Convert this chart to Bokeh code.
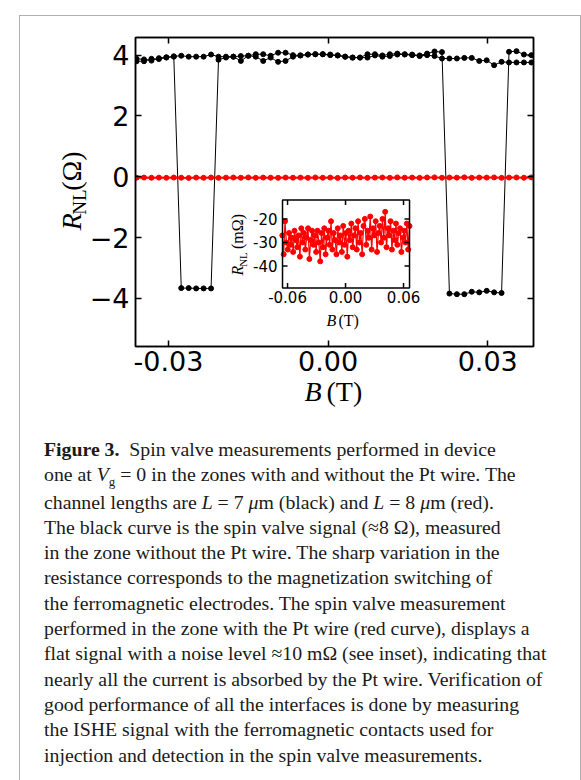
from math import pi
from bokeh.plotting import figure
from bokeh.models import Range1d, LinearAxis, FixedTicker, Div
from bokeh.layouts import column, row
from bokeh.embed import file_html
from bokeh.resources import INLINE
from bokeh.core.properties import value

# ---------------- data ----------------
B_black = [-0.036, -0.0346, -0.0332, -0.0318, -0.0304, -0.029, -0.0276, -0.0262, -0.0248, -0.0234,
           -0.022, -0.0206, -0.0192, -0.0178, -0.0164, -0.015, -0.0136, -0.0122, -0.0108, -0.0094,
           -0.008, -0.0066, -0.0052, -0.0038, -0.0024, -0.001, 0.0004, 0.0018, 0.0032, 0.0046,
           0.006, 0.0074, 0.0088, 0.0102, 0.0116, 0.013, 0.0144, 0.0158, 0.0172, 0.0186,
           0.02, 0.0214, 0.0228, 0.0242, 0.0256, 0.027, 0.0284, 0.0298, 0.0312, 0.0326,
           0.034, 0.0354, 0.0368, 0.0382]
R_up = [3.88, 3.86, 3.82, 3.90, 3.93, 3.96, 3.98, 3.95, 3.95, 3.95, 4.02,
        3.95, 3.95, 3.95, 3.97, 3.98, 4.03, 4.03, 3.98, 4.08, 4.08,
        4.00, 3.99, 4.02, 4.03, 4.03, 4.02, 3.99, 3.95, 3.92, 3.92,
        4.03, 4.03, 3.99, 4.03, 4.05, 4.03, 4.02, 3.99, 4.05, 4.12,
        4.10, -3.84, -3.86, -3.86, -3.78, -3.80, -3.75, -3.80, -3.82,
        4.11, 4.13, 4.02, 4.00]
R_down = [3.80, 3.80, 3.88, 3.87, 3.92, 3.95, -3.66, -3.66, -3.67, -3.67, -3.67,
          3.85, 3.92, 3.95, 3.81, 3.98, 3.95, 3.81, 3.92, 3.78, 3.81,
          3.95, 3.99, 4.02, 4.03, 4.03, 4.00, 3.99, 3.95, 3.92, 3.92,
          3.92, 3.99, 3.95, 3.97, 4.02, 4.02, 4.00, 3.97, 4.00, 3.97,
          3.89, 3.89, 3.89, 3.91, 3.91, 3.81, 3.83, 3.67, 3.78, 3.76, 3.76, 3.76, 3.76]

B_red = [-0.0654, -0.064, -0.0626, -0.0612, -0.0598, -0.0584, -0.057, -0.0556, -0.0542, -0.0528,
         -0.0514, -0.05, -0.0486, -0.0472, -0.0458, -0.0444, -0.043, -0.0416, -0.0402, -0.0388,
         -0.0374, -0.036, -0.0346, -0.0332, -0.0318, -0.0304, -0.029, -0.0276, -0.0262, -0.0248,
         -0.0234, -0.022, -0.0206, -0.0192, -0.0178, -0.0164, -0.015, -0.0136, -0.0122, -0.0108,
         -0.0094, -0.008, -0.0066, -0.0052, -0.0038, -0.0024, -0.001, 0.0004, 0.0018, 0.0032,
         0.0046, 0.006, 0.0074, 0.0088, 0.0102, 0.0116, 0.013, 0.0144, 0.0158, 0.0172,
         0.0186, 0.02, 0.0214, 0.0228, 0.0242, 0.0256, 0.027, 0.0284, 0.0298, 0.0312,
         0.0326, 0.034, 0.0354, 0.0368, 0.0382, 0.0396, 0.041, 0.0424, 0.0438, 0.0452,
         0.0466, 0.048, 0.0494, 0.0508, 0.0522, 0.0536, 0.055, 0.0564, 0.0578, 0.0592,
         0.0606, 0.062, 0.0634, 0.0648, 0.0662]
R_red_mohm = [-27, -35, -21, -30, -33, -26, -31, -28, -34, -25,
              -29, -32, -27, -36, -24, -30, -26, -33, -28, -24,
              -37, -29, -25, -31, -27, -34, -25, -30, -38, -26,
              -32, -24, -35, -28, -25, -31, -21, -33, -26, -29,
              -35, -24, -30, -27, -34, -23, -31, -26, -36, -25,
              -29, -22, -32, -27, -24, -33, -21, -30, -26, -35,
              -23, -20, -31, -25, -28, -19, -33, -24, -27, -21,
              -34, -26, -23, -30, -20, -28, -17, -32, -24, -27,
              -21, -33, -25, -29, -22, -31, -26, -24, -34, -28,
              -25, -30, -22, -33, -23]
R_red_ohm = [v / 1000.0 for v in R_red_mohm]

x_lim = [-0.0362, 0.0386]
y_lim = [-5.58, 4.58]
x_ticks = [-0.03, 0.0, 0.03]
x_tick_labels = ["-0.03", "0.00", "0.03"]
y_ticks = [-4, -2, 0, 2, 4]
y_tick_labels = ["\u22124", "\u22122", "0", "2", "4"]

ix_lim = [-0.0652, 0.0662]
iy_lim = [-49.3, -12.0]
ix_ticks = [-0.06, 0.0, 0.06]
ix_tick_labels = ["-0.06", "0.00", "0.06"]
iy_ticks = [-40, -30, -20]
iy_tick_labels = ["-40", "-30", "-20"]
# where the inset box sits, in the main plot's data coordinates
inset_x_target = [-0.00857, 0.01530]
inset_y_target = [-3.657, -0.763]

SANS = "DejaVu Sans"
SERIF = "Liberation Serif"

# ---------------- main plot ----------------
p = figure(width=496, height=384, x_range=Range1d(*x_lim), y_range=Range1d(*y_lim),
           output_backend="svg", toolbar_location=None,
           min_border_left=50, min_border_right=48, min_border_top=37, min_border_bottom=38,
           margin=(0, 0, 0, -7))
p.grid.visible = False
p.outline_line_color = "black"
p.outline_line_width = 1.5
p.background_fill_color = "white"
p.border_fill_alpha = 0


def style_axis(ax, ticks, labels, fs, show_labels=True, standoff=4, tick_len=6):
    ax.ticker = FixedTicker(ticks=ticks)
    ax.major_label_overrides = {t: l for t, l in zip(ticks, labels)}
    ax.major_tick_in = tick_len
    ax.major_tick_out = 0
    ax.major_tick_line_width = 1.5
    ax.minor_tick_line_color = None
    ax.axis_line_width = 1.5
    ax.major_label_text_font = SANS
    ax.major_label_standoff = standoff
    if show_labels:
        ax.major_label_text_font_size = fs
        ax.major_label_text_color = "black"
    else:
        ax.major_label_text_font_size = "1px"
        ax.major_label_text_color = None
        ax.major_label_standoff = 0


style_axis(p.xaxis[0], x_ticks, x_tick_labels, "27px", standoff=4)
style_axis(p.yaxis[0], y_ticks, y_tick_labels, "27px", standoff=6)
ax_top = LinearAxis()
style_axis(ax_top, x_ticks, x_tick_labels, "27px", show_labels=False)
p.add_layout(ax_top, "above")
ax_right = LinearAxis()
style_axis(ax_right, y_ticks, y_tick_labels, "27px", show_labels=False)
p.add_layout(ax_right, "right")

# black spin valve sweeps (zone without Pt)
p.line(B_black, R_up, line_color="black", line_width=1)
p.scatter(B_black, R_up, size=5, fill_color="black", line_color="black")
p.line(B_black, R_down, line_color="black", line_width=1)
p.scatter(B_black, R_down, size=5, fill_color="black", line_color="black")
# red (zone with Pt)
p.line(B_red, R_red_ohm, line_color="red", line_width=2)
p.scatter(B_red, R_red_ohm, size=5, fill_color="red", line_color="red")

# ---------------- inset (sub-coordinates inside the main plot) ----------------
ins = p.subplot(x_source=Range1d(*ix_lim), y_source=Range1d(*iy_lim),
                x_target=Range1d(*inset_x_target), y_target=Range1d(*inset_y_target))
ins.quad(left=ix_lim[0], right=ix_lim[1], bottom=iy_lim[0], top=iy_lim[1],
         fill_color="white", line_color=None)
ins.line(B_red, R_red_mohm, line_color="red", line_width=1.2)
ins.scatter(B_red, R_red_mohm, size=5, fill_color="red", line_color="red")
ins.quad(left=ix_lim[0], right=ix_lim[1], bottom=iy_lim[0], top=iy_lim[1],
         fill_color=None, line_color="black", line_width=1.5)
tick_kw = dict(length=5, length_units="screen", line_color="black", line_width=1.5)
ins.ray(x=ix_ticks, y=[iy_lim[0]] * len(ix_ticks), angle=pi / 2, **tick_kw)
ins.ray(x=ix_ticks, y=[iy_lim[1]] * len(ix_ticks), angle=-pi / 2, **tick_kw)
ins.ray(x=[ix_lim[0]] * len(iy_ticks), y=iy_ticks, angle=0, **tick_kw)
ins.ray(x=[ix_lim[1]] * len(iy_ticks), y=iy_ticks, angle=pi, **tick_kw)
ins.text(x=ix_ticks, y=[iy_lim[0]] * len(ix_ticks), text=ix_tick_labels, y_offset=3,
         text_align="center", text_baseline="top", text_font=value(SANS),
         text_font_size=value("15px"), text_color="black")
ins.text(x=[ix_lim[0]] * len(iy_ticks), y=iy_ticks, text=iy_tick_labels, x_offset=-5,
         text_align="right", text_baseline="middle", text_font=value(SANS),
         text_font_size=value("15px"), text_color="black")
# inset axis labels, anchored at the inset's lower-left corner
corner_x = [ix_lim[0]]
corner_y = [iy_lim[0]]
lab = dict(text_align="left", text_baseline="middle", text_color="black", text_font=value(SERIF))
rlab = dict(text_align="center", text_baseline="middle", text_color="black",
            text_font=value(SERIF), angle=pi / 2)
ins.text(x=corner_x, y=corner_y, text=["R"], x_offset=-45, y_offset=-17.5,
         text_font_style=value("italic"), text_font_size=value("16px"), **rlab)
ins.text(x=corner_x, y=corner_y, text=["NL"], x_offset=-40, y_offset=-28.5,
         text_font_size=value("11px"), **rlab)
ins.text(x=corner_x, y=corner_y, text=["(m\u03a9)"], x_offset=-45, y_offset=-56.5,
         text_font_size=value("16px"), **rlab)
ins.text(x=corner_x, y=corner_y, text=["B"], x_offset=44, y_offset=32.5,
         text_font_style=value("italic"), text_font_size=value("16px"), **lab)
ins.text(x=corner_x, y=corner_y, text=["(T)"], x_offset=56, y_offset=32.5,
         text_font_size=value("16px"), **lab)

# ---------------- main axis labels (own small canvases, page-pixel ranges) ----------------
ylab = figure(width=92, height=384, x_range=Range1d(0, 92), y_range=Range1d(384, 0),
              output_backend="svg", toolbar_location=None, min_border=0,
              x_axis_location=None, y_axis_location=None)
ylab.grid.visible = False
ylab.outline_line_color = None
ylab.text(x=[70.5], y=[229], text=["R"], text_font_style=value("italic"),
          text_font_size=value("28px"), **rlab)
ylab.text(x=[78.5], y=[204.5], text=["NL"], text_font_size=value("19px"), **rlab)
ylab.text(x=[70.5], y=[166], text=["(\u03a9)"], text_font_size=value("28px"), **rlab)

xlab = figure(width=581, height=45, x_range=Range1d(0, 581), y_range=Range1d(415, 370),
              output_backend="svg", toolbar_location=None, min_border=0,
              x_axis_location=None, y_axis_location=None, margin=(-14, 0, 0, 0))
xlab.grid.visible = False
xlab.outline_line_color = None
xlab.background_fill_alpha = 0
xlab.border_fill_alpha = 0
xlab.text(x=[304], y=[391], text=["B"], text_font_style=value("italic"),
          text_font_size=value("28px"), **lab)
xlab.text(x=[326], y=[391], text=["(T)"], text_font_size=value("28px"), **lab)

# ---------------- caption ----------------
caption_lines = [
    "<b>Figure 3.</b>&nbsp;&nbsp;Spin valve measurements performed in device",
    "one at <i>V</i><span style='position:relative; top:5px; font-size:13px'>g</span> = 0 in the zones with and without the Pt wire. The",
    "channel lengths are <i>L</i> = 7 <i>\u03bc</i>m (black) and <i>L</i> = 8 <i>\u03bc</i>m (red).",
    "The black curve is the spin valve signal (\u22488 \u03a9), measured",
    "in the zone without the Pt wire. The sharp variation in the",
    "resistance corresponds to the magnetization switching of",
    "the ferromagnetic electrodes. The spin valve measurement",
    "performed in the zone with the Pt wire (red curve), displays a",
    "flat signal with a noise level \u224810 m\u03a9 (see inset), indicating that",
    "nearly all the current is absorbed by the Pt wire. Verification of",
    "good performance of all the interfaces is done by measuring",
    "the ISHE signal with the ferromagnetic contacts used for",
    "injection and detection in the spin valve measurements.",
]
cap_html = ("<div style=\"font-family:'Liberation Serif'; font-size:19.8px; line-height:25.3px; "
            "color:#1a1a1a; padding-left:39px; padding-top:17px; white-space:nowrap;\">"
            + "<br>".join(caption_lines) + "</div>")
cap = Div(text=cap_html, width=581, height=360)

frame_box = Div(text="", width=562, height=770,
                styles={"position": "absolute", "left": "13.5px", "top": "10px",
                        "border": "1.5px solid #b0b0b0", "border-bottom": "none",
                        "box-sizing": "border-box", "pointer-events": "none"})

root = column(row(ylab, p), xlab, cap, frame_box)
open("out.html", "w").write(file_html(root, INLINE))
